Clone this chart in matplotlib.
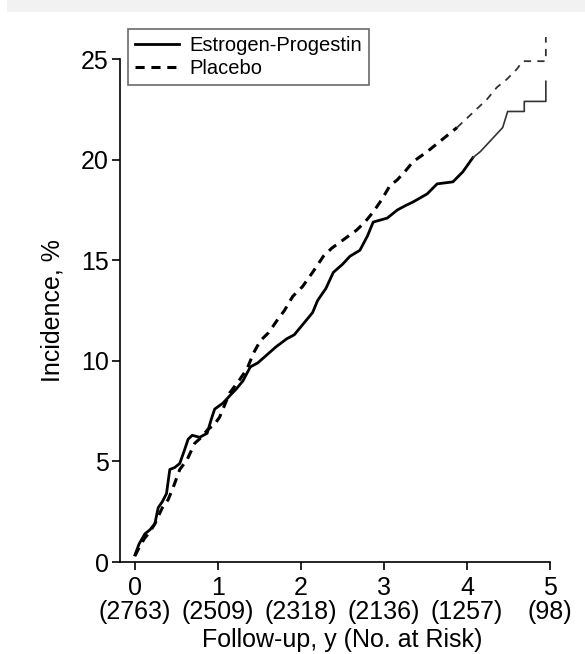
import matplotlib
matplotlib.use("Agg")
import matplotlib.pyplot as plt
from matplotlib.patches import Rectangle

plt.rcParams['font.family'] = ['Liberation Sans', 'DejaVu Sans']

# Data (years, cumulative incidence %)
ep_x = [0.0, 0.05, 0.12, 0.18, 0.24, 0.28, 0.33, 0.38, 0.42, 0.48, 0.54, 0.60, 0.64, 0.69,
        0.78, 0.87, 0.92, 0.96, 1.06, 1.15, 1.22, 1.30, 1.39, 1.48, 1.59, 1.70, 1.83, 1.92,
        2.02, 2.14, 2.20, 2.30, 2.39, 2.50, 2.59, 2.71, 2.80, 2.87, 3.04, 3.16, 3.25, 3.35,
        3.52, 3.64, 3.83, 3.95, 4.07, 4.16, 4.25, 4.34, 4.43, 4.49, 4.69, 4.69, 4.95, 4.95]
ep_y = [0.35, 0.9, 1.4, 1.6, 1.9, 2.7, 3.0, 3.4, 4.6, 4.7, 4.9, 5.6, 6.1, 6.3,
        6.2, 6.4, 7.1, 7.6, 7.9, 8.3, 8.6, 9.0, 9.7, 9.9, 10.3, 10.7, 11.1, 11.3,
        11.8, 12.4, 13.0, 13.6, 14.4, 14.8, 15.2, 15.5, 16.2, 16.9, 17.1, 17.5, 17.7, 17.9,
        18.3, 18.8, 18.9, 19.4, 20.1, 20.4, 20.8, 21.2, 21.6, 22.4, 22.4, 22.9, 22.9, 23.9]

pl_x = [0.0, 0.06, 0.12, 0.18, 0.24, 0.33, 0.40, 0.46, 0.54, 0.63, 0.72, 0.80, 0.88, 0.95,
        1.02, 1.14, 1.25, 1.35, 1.43, 1.51, 1.61, 1.71, 1.80, 1.90, 2.02, 2.14, 2.27, 2.37,
        2.47, 2.57, 2.67, 2.77, 2.87, 2.97, 3.07, 3.16, 3.25, 3.35, 3.52, 3.70, 3.88, 4.06,
        4.24, 4.36, 4.48, 4.60, 4.67, 4.95, 4.95]
pl_y = [0.3, 0.8, 1.2, 1.5, 1.9, 2.7, 3.1, 3.7, 4.6, 5.1, 5.9, 6.2, 6.6, 6.8,
        7.2, 8.4, 9.0, 9.6, 10.4, 11.0, 11.4, 12.0, 12.5, 13.2, 13.7, 14.4, 15.2, 15.6,
        15.9, 16.2, 16.5, 16.9, 17.4, 18.0, 18.7, 19.0, 19.4, 19.9, 20.4, 21.0, 21.6, 22.3,
        23.0, 23.6, 24.0, 24.5, 24.9, 24.9, 26.1]

x_ticks = [0, 1, 2, 3, 4, 5]
at_risk = [2763, 2509, 2318, 2136, 1257, 98]
y_ticks = [0, 5, 10, 15, 20, 25]

W, H = 585, 654
fig = plt.figure(figsize=(W / 100, H / 100), dpi=100)
fig.patches.append(Rectangle((7 / W, 1 - 12 / H), 1, 12 / H, transform=fig.transFigure,
                             facecolor='#f2f2f2', edgecolor='none', zorder=0))

ax = fig.add_axes([120 / W, 1 - 562 / H, 430 / W, 533 / H])

# split tails so the sparse tail is drawn thinner, as in the original
k_ep = 46
k_pl = 40
ax.plot(ep_x[:k_ep + 1], ep_y[:k_ep + 1], color='black', lw=2.0, ls='-',
        label='Estrogen-Progestin', solid_joinstyle='round')
ax.plot(ep_x[k_ep:], ep_y[k_ep:], color='#333333', lw=1.2, ls='-')
ax.plot(pl_x[:k_pl + 1], pl_y[:k_pl + 1], color='black', lw=2.2, ls=(0, (3.0, 2.2)),
        label='Placebo')
ax.plot(pl_x[k_pl:], pl_y[k_pl:], color='#333333', lw=1.3, ls=(0, (4.0, 3.5)))

ax.set_xlim(-0.18, 5.0)
ax.set_ylim(0, 26.5)
ax.spines['top'].set_visible(False)
ax.spines['right'].set_visible(False)
ax.spines['left'].set_bounds(0, 25)
for s in ('left', 'bottom'):
    ax.spines[s].set_linewidth(1.2)
ax.set_xticks(x_ticks)
ax.set_xticklabels([f"{t}\n({n})" for t, n in zip(x_ticks, at_risk)], fontsize=18,
                   linespacing=1.0)
ax.set_yticks(y_ticks)
ax.set_yticklabels([str(t) for t in y_ticks], fontsize=18)
ax.tick_params(direction='out', length=6, width=1.2, pad=2, colors='black')
ax.tick_params(axis='x', pad=4)
ax.set_xlabel('Follow-up, y (No. at Risk)', fontsize=18, labelpad=0)
ax.xaxis.set_label_coords((2.5 + 0.18) / 5.18, -0.124)
ax.set_ylabel('Incidence, %', fontsize=18)
ax.yaxis.set_label_coords(-0.128, 12.5 / 26.5)

leg = ax.legend(loc='upper left', bbox_to_anchor=(8 / 430, 1.0), fontsize=14.5,
                frameon=True, fancybox=False, handlelength=2.2, handletextpad=0.5,
                borderpad=0.35, labelspacing=0.2, borderaxespad=0)
leg.get_frame().set_edgecolor('#444444')
leg.get_frame().set_linewidth(1.2)

fig.savefig('out.png', dpi=100)
